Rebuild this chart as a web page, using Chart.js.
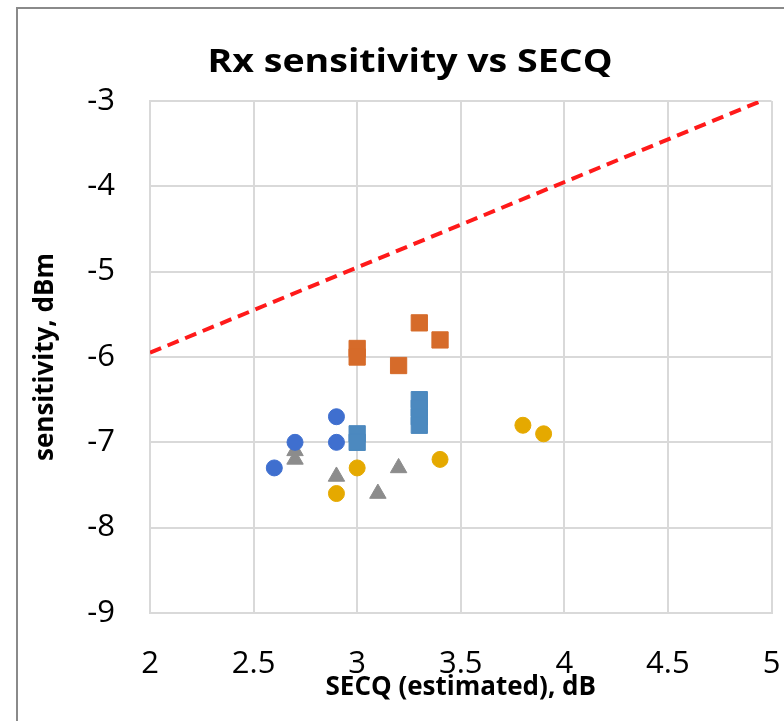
<!DOCTYPE html>
<html>
<head>
<meta charset="utf-8">
<script src="https://cdn.jsdelivr.net/npm/chart.js@4"></script>
<style>
  html, body { margin: 0; padding: 0; background: #fff; }
  #wrap { width: 784px; height: 721px; position: relative; }
</style>
</head>
<body>
<div id="wrap"><canvas id="scatterChart"></canvas></div>
<script>
  // values (SECQ dB, sensitivity dBm)
  const blueCircleX = [2.6, 2.7, 2.9, 2.9];
  const blueCircleY = [-7.3, -7.0, -6.7, -7.0];
  const grayTriX = [2.7, 2.7, 2.9, 3.1, 3.2];
  const grayTriY = [-7.1, -7.2, -7.4, -7.6, -7.3];
  const yellowX = [2.9, 3.0, 3.4, 3.8, 3.9];
  const yellowY = [-7.6, -7.3, -7.2, -6.8, -6.9];
  const orangeX = [3.0, 3.0, 3.2, 3.3, 3.4];
  const orangeY = [-5.9, -6.0, -6.1, -5.6, -5.8];
  const blueSqX = [3.0, 3.0, 3.3, 3.3, 3.3, 3.3];
  const blueSqY = [-6.9, -7.0, -6.5, -6.6, -6.7, -6.8];
  const limitX = [2, 4.95];
  const limitY = [-5.95, -3.0];

  const xTicks = [2, 2.5, 3, 3.5, 4, 4.5, 5];
  const yTicks = [-9, -8, -7, -6, -5, -4, -3];

  const font = "'Open Sans', Lato, sans-serif";
  const pts = (xs, ys) => xs.map((x, i) => ({ x: x, y: ys[i] }));

  const framePlugin = {
    id: 'frame',
    beforeDraw(chart) {
      const c = chart.ctx;
      c.save();
      c.strokeStyle = '#8a8a8a';
      c.lineWidth = 2;
      c.beginPath();
      c.moveTo(17, 800);
      c.lineTo(17, 8);
      c.lineTo(800, 8);
      c.stroke();
      c.restore();
    },
    afterDraw(chart) {
      // title, stretched a little to the width it has in the picture
      const c = chart.ctx;
      const text = 'Rx sensitivity vs SECQ';
      c.save();
      c.fillStyle = '#000';
      c.font = "bold 33px " + font;
      c.textAlign = 'center';
      c.textBaseline = 'alphabetic';
      const sx = 405 / c.measureText(text).width;
      c.translate(410, 72);
      c.scale(sx, 1);
      c.fillText(text, 0, 0);
      c.restore();
    }
  };

  const ctx = document.getElementById('scatterChart').getContext('2d');
  const chart = new Chart(ctx, {
    type: 'scatter',
    data: {
      datasets: [
        { label: 'A', data: pts(blueCircleX, blueCircleY), pointStyle: 'circle', pointRadius: 8,
          backgroundColor: '#3f6fcf', borderColor: '#3f6fcf' },
        { label: 'B', data: pts(grayTriX, grayTriY), pointStyle: 'triangle', pointRadius: 9.5,
          backgroundColor: '#8c8c8c', borderColor: '#8c8c8c' },
        { label: 'C', data: pts(yellowX, yellowY), pointStyle: 'circle', pointRadius: 8,
          backgroundColor: '#e5a900', borderColor: '#e5a900' },
        { label: 'D', data: pts(orangeX, orangeY), pointStyle: 'rect', pointRadius: 11.5,
          backgroundColor: '#d66b2a', borderColor: '#d66b2a' },
        { label: 'E', data: pts(blueSqX, blueSqY), pointStyle: 'rect', pointRadius: 11.5,
          backgroundColor: '#4c89bf', borderColor: '#4c89bf' },
        { label: 'limit', type: 'line', data: pts(limitX, limitY), showLine: true,
          borderColor: '#ff1a1a', borderWidth: 4, borderDash: [12, 7], pointRadius: 0, fill: false }
      ]
    },
    options: {
      responsive: true,
      maintainAspectRatio: false,
      animation: false,
      layout: { padding: { top: 101, right: 10, left: 0, bottom: 0 } },
      plugins: {
        legend: { display: false },
        title: { display: false },
        tooltip: { enabled: false }
      },
      scales: {
        x: {
          type: 'linear',
          min: 2, max: 5,
          afterBuildTicks: axis => { axis.ticks = xTicks.map(v => ({ value: v })); },
          afterFit: axis => { axis.height = 108; axis.paddingLeft = 0; axis.paddingRight = 0; },
          grid: { color: '#d9d9d9', lineWidth: 2, drawTicks: false },
          border: { color: '#d9d9d9', width: 2 },
          ticks: { color: '#000', padding: 33, font: { family: font, size: 31 },
                   callback: v => String(v) },
          title: { display: true, text: 'SECQ (estimated), dB', color: '#000',
                   padding: { top: 0, bottom: 18 }, font: { family: font, size: 26, weight: 'bold' } }
        },
        y: {
          type: 'linear',
          min: -9, max: -3,
          afterBuildTicks: axis => { axis.ticks = yTicks.map(v => ({ value: v })); },
          afterFit: axis => { axis.width = 150; },
          grid: { color: '#d9d9d9', lineWidth: 2, drawTicks: false },
          border: { color: '#d9d9d9', width: 2 },
          ticks: { color: '#000', padding: 35, font: { family: font, size: 31 },
                   callback: v => String(v) },
          title: { display: true, text: 'sensitivity, dBm', color: '#000',
                   padding: { top: 30, bottom: 0 }, font: { family: font, size: 26, weight: 'bold' } }
        }
      }
    },
    plugins: [framePlugin]
  });
</script>
</body>
</html>
